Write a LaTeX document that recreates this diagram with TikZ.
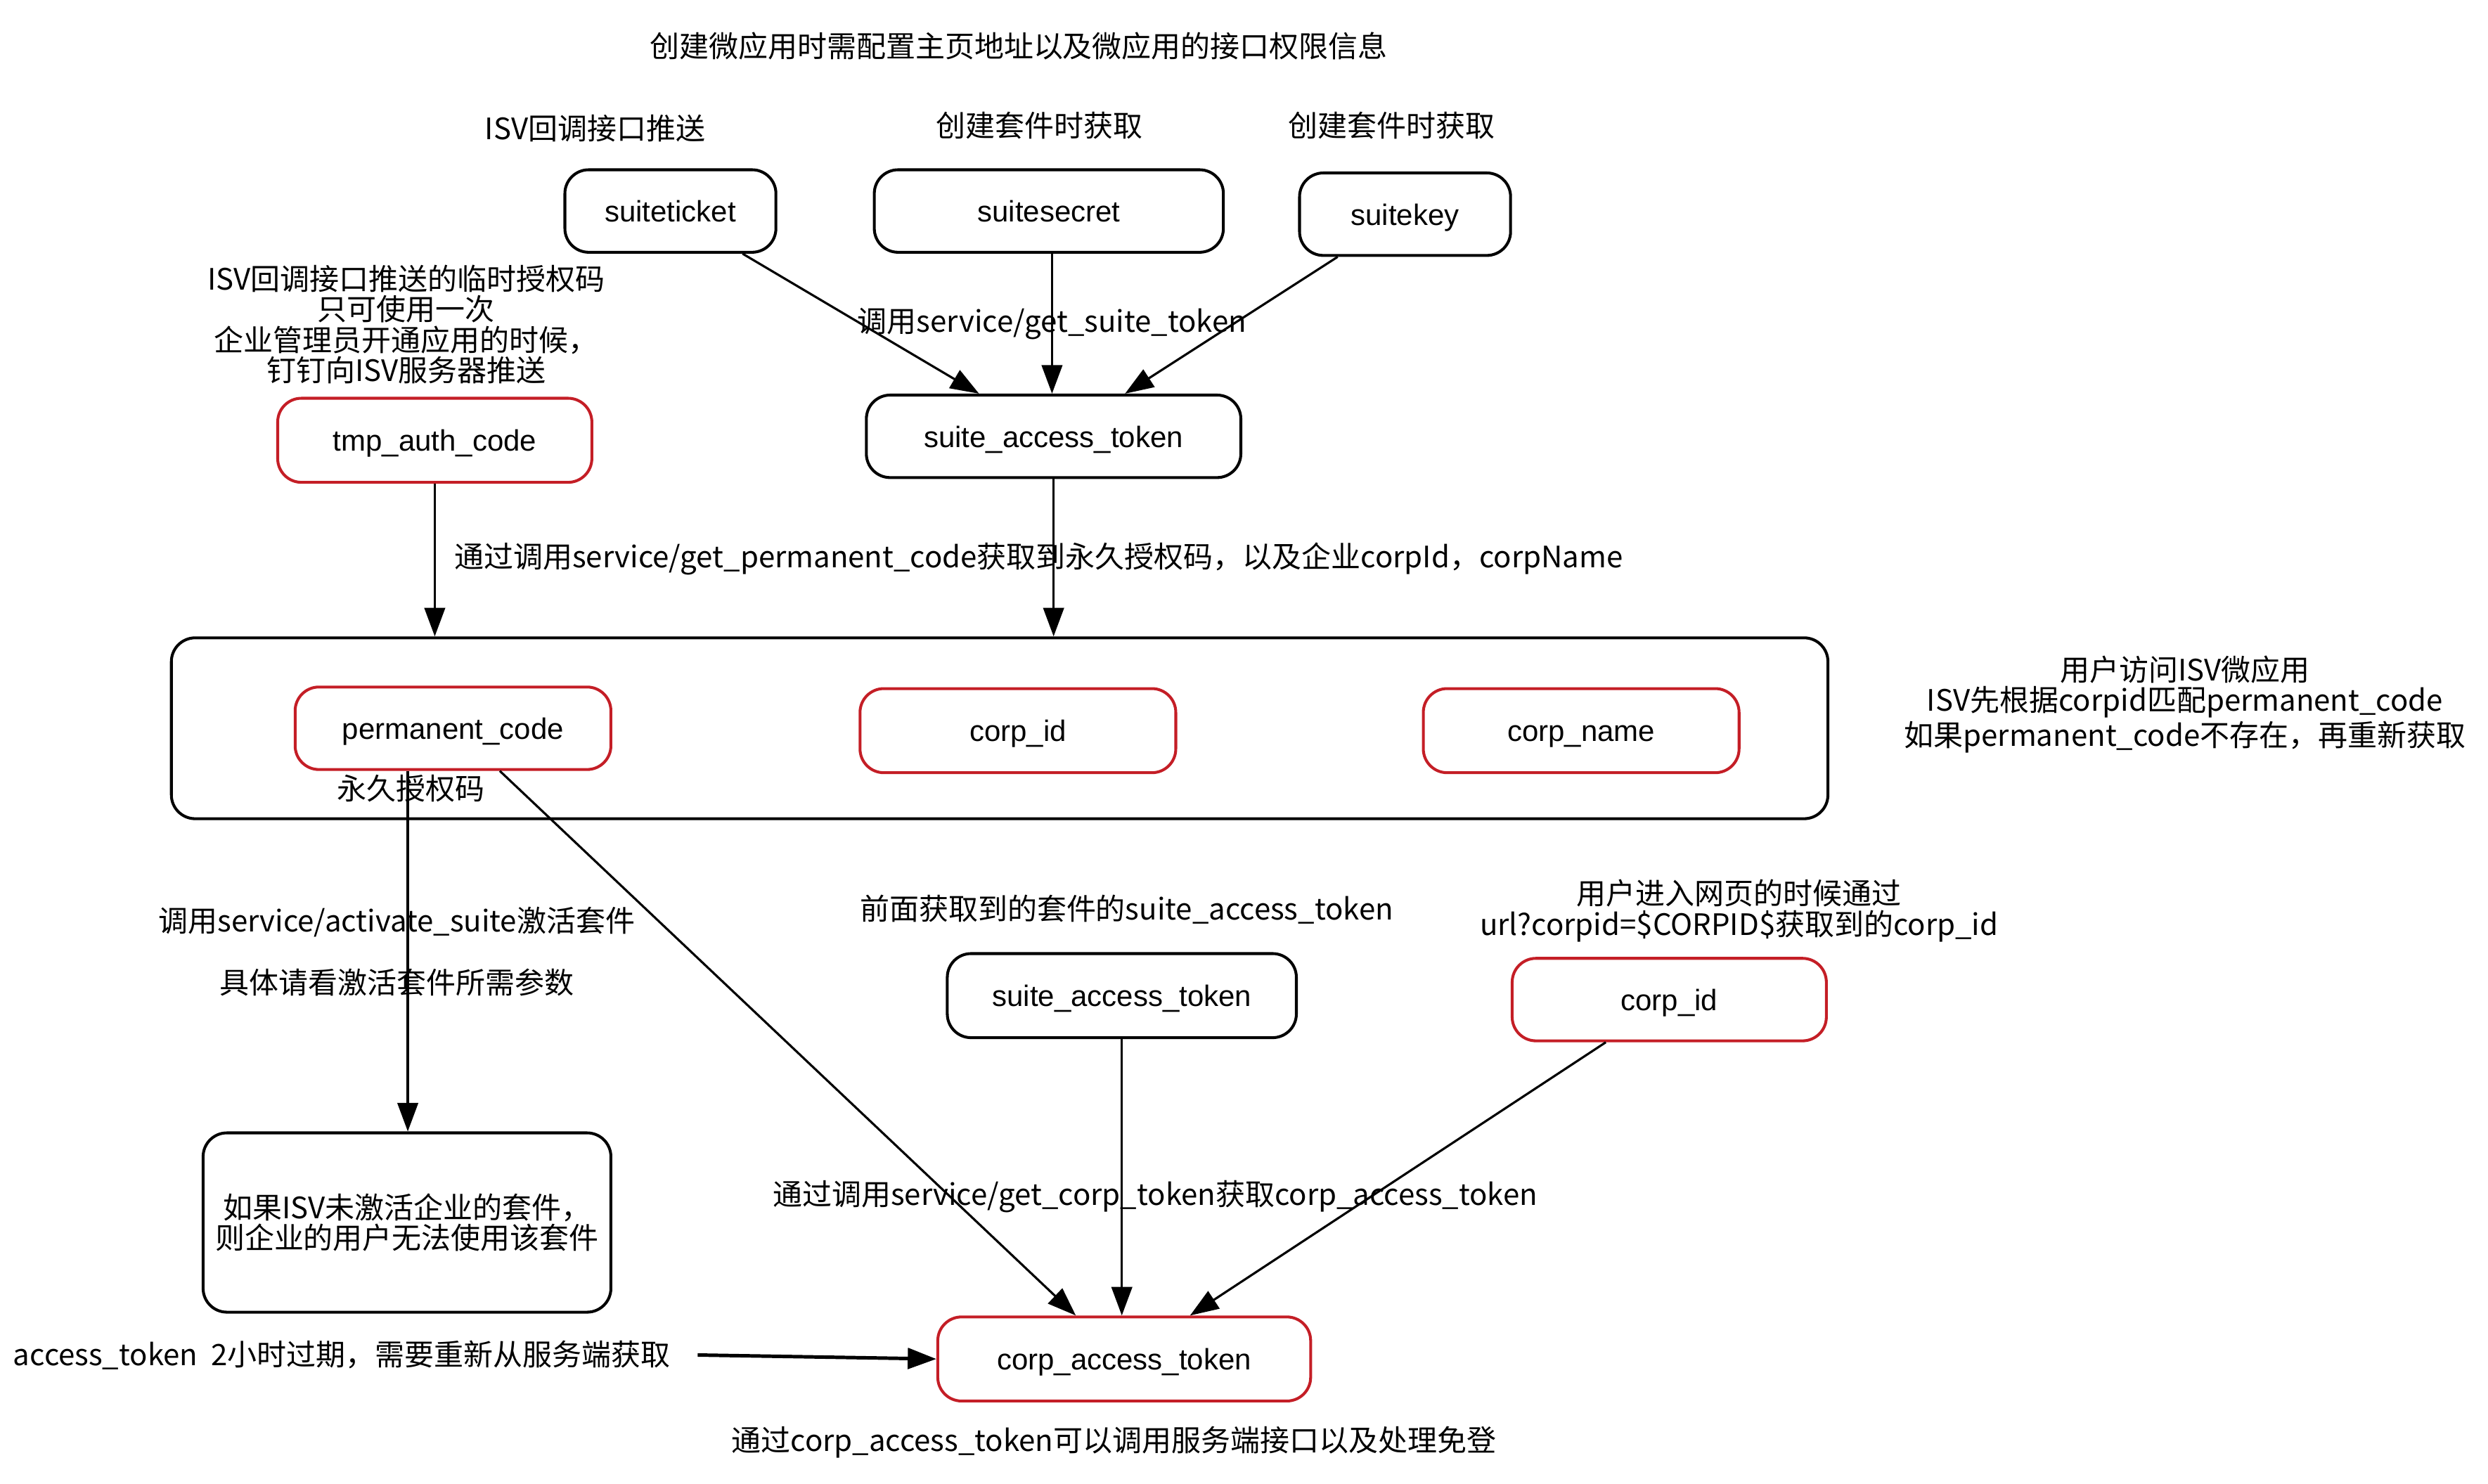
\documentclass[tikz,border=0pt]{standalone}
\usepackage{fontspec}
\setmainfont{Liberation Sans}
\newfontfamily\cjk{Noto Sans CJK SC}
\usetikzlibrary{arrows.meta}
\definecolor{myred}{RGB}{196,30,38}
\tikzset{
  box/.style={draw=black, line width=0.9pt, rounded corners=7.5pt, inner sep=0pt,
    font=\fontsize{9.3}{11}\selectfont, align=center},
  tbox/.style={box, text height=6.8pt, text depth=0pt},
  redbox/.style={tbox, draw=myred},
  lbl/.style={inner sep=0pt, align=center, font=\cjk\fontsize{9.3}{9.6}\selectfont},
  arr/.style={line width=0.7pt, -{Triangle[length=9pt,width=6.5pt]}},
}
\begin{document}
\begin{tikzpicture}[x=0.5pt,y=-0.5pt]
\path[use as bounding box] (0,0) rectangle (1568,935);

% nodes
\node[tbox, minimum width=66.5pt, minimum height=26pt] (suiteticket) at (422.5,133) {suiteticket};
\node[tbox, minimum width=110pt, minimum height=26pt] (suitesecret) at (661,133) {suitesecret};
\node[tbox, minimum width=66.5pt, minimum height=26pt] (suitekey) at (885.5,135) {suitekey};
\node[redbox, minimum width=99pt, minimum height=26.5pt] (tmp) at (274,277.5) {tmp\_auth\_code};
\node[tbox, minimum width=118pt, minimum height=26pt] (sat1) at (664,275) {suite\_access\_token};
\node[box, minimum width=522pt, minimum height=57pt] (container) at (630,459) {};
\node[redbox, minimum width=99.5pt, minimum height=26pt] (perm) at (285.5,459) {permanent\_code};
\node[redbox, minimum width=99.5pt, minimum height=26.5pt] (corpid) at (641.5,460.5) {corp\_id};
\node[redbox, minimum width=99.5pt, minimum height=26.5pt] (corpname) at (996.5,460.5) {corp\_name};
\node[tbox, minimum width=110pt, minimum height=26.5pt] (sat2) at (707,627.5) {suite\_access\_token};
\node[redbox, minimum width=99pt, minimum height=26pt] (corpid2) at (1052,630) {corp\_id};
\node[box, minimum width=128.5pt, minimum height=56.5pt, font=\cjk\fontsize{9.3}{9.6}\selectfont] (ifbox) at (256.5,770.5) {如果ISV未激活企业的套件，\\则企业的用户无法使用该套件};
\node[redbox, minimum width=117.5pt, minimum height=26.5pt] (cat) at (708.5,856.5) {corp\_access\_token};

% labels
\node[lbl] (title) at (642,29) {创建微应用时需配置主页地址以及微应用的接口权限信息};
\node[lbl] (l1) at (375,81) {ISV回调接口推送};
\node[lbl] (l2) at (655,79) {创建套件时获取};
\node[lbl] (l3) at (877,79) {创建套件时获取};
\node[lbl] (ltmp) at (256,204.5) {ISV回调接口推送的临时授权码\\只可使用一次\\企业管理员开通应用的时候，\\钉钉向ISV服务器推送};
\node[lbl] (lgst) at (663,204) {调用service/get\_suite\_token};
\node[lbl, anchor=west] (lperm) at (286,352) {通过调用service/get\_permanent\_code获取到永久授权码，以及企业corpId，corpName};
\node[lbl] (lyj) at (259,497) {永久授权码};
\node[lbl] (lright) at (1377,444) {用户访问ISV微应用\\ISV先根据corpid匹配permanent\_code\\如果permanent\_code不存在，再重新获取};
\node[lbl] (lact) at (250,581) {调用service/activate\_suite激活套件};
\node[lbl] (lact2) at (250,619) {具体请看激活套件所需参数};
\node[lbl] (lprev) at (710,573) {前面获取到的套件的suite\_access\_token};
\node[lbl] (lurl) at (1096,574) {用户进入网页的时候通过\\url?corpid=\$CORPID\$获取到的corp\_id};
\node[lbl] (lgct) at (728,754) {通过调用service/get\_corp\_token获取corp\_access\_token};
\node[lbl, anchor=west] (lacc) at (8,854) {access\_token\ \ 2小时过期，需要重新从服务端获取};
\node[lbl] (lbot) at (702,909) {通过corp\_access\_token可以调用服务端接口以及处理免登};

% connectors
\draw[arr] ([xshift=22.75pt]suiteticket.south) -- ([xshift=-23.5pt]sat1.north);
\draw[arr] ([xshift=1pt]suitesecret.south) -- ([xshift=-0.5pt]sat1.north);
\draw[arr] ([xshift=-21.25pt]suitekey.south) -- ([xshift=22.5pt]sat1.north);
\draw[arr] (tmp.south) -- (tmp.south |- container.north);
\draw[arr] (sat1.south) -- (sat1.south |- container.north);
\draw[arr] ([xshift=-14.25pt]perm.south) -- ([xshift=-14.25pt]perm.south |- ifbox.north);
\draw[arr] ([xshift=14.75pt]perm.south) -- ([xshift=-15.25pt]cat.north);
\draw[arr] (sat2.south) -- (sat2.south |- cat.north);
\draw[arr] ([xshift=-20pt]corpid2.south) -- ([xshift=20.75pt]cat.north);
\draw[arr, line width=1.1pt] ([xshift=8.5pt]lacc.east) -- (cat.west);
\end{tikzpicture}
\end{document}
